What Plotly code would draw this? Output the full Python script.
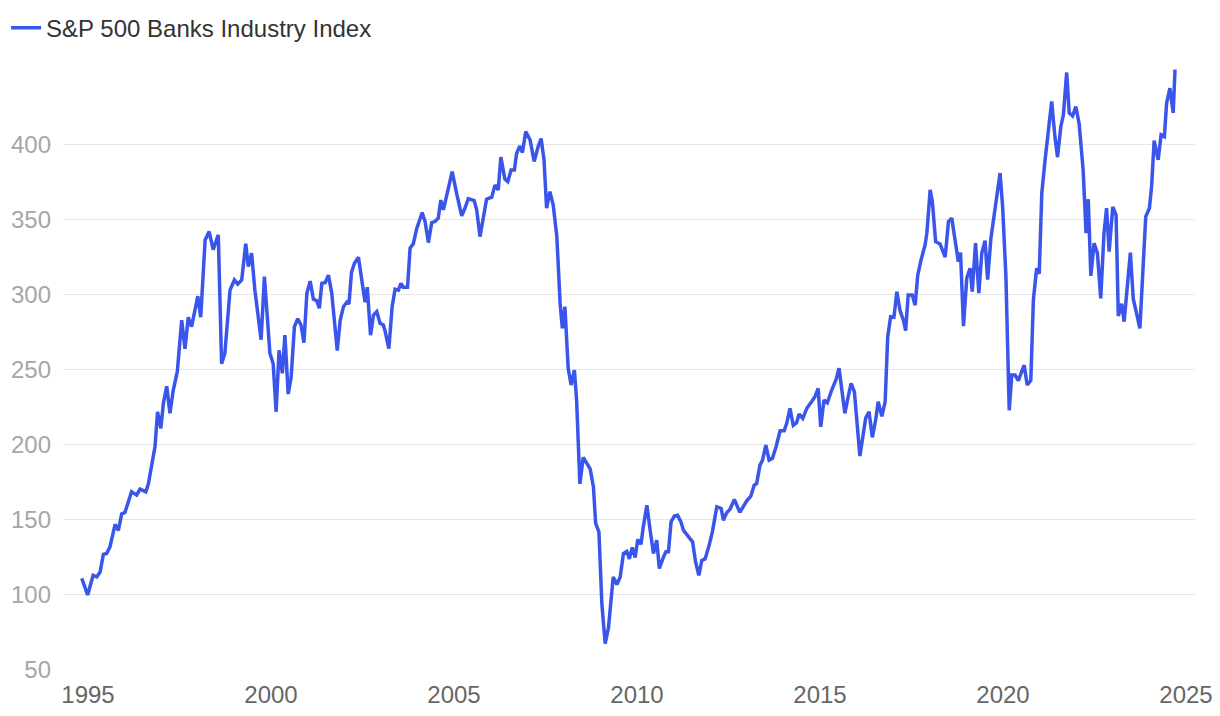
import plotly.graph_objects as go

# Decimal-year positions of each reading and index values
years = [
    1994.83, 1994.99, 1995.14, 1995.24, 1995.33, 1995.42, 1995.51, 1995.60, 1995.74, 1995.83,
    1995.92, 1996.01, 1996.19, 1996.33, 1996.42, 1996.58, 1996.65, 1996.74, 1996.83, 1996.90,
    1996.99, 1997.06, 1997.15, 1997.24, 1997.33, 1997.44, 1997.56, 1997.65, 1997.74, 1997.83,
    1998.00, 1998.08, 1998.20, 1998.31, 1998.42, 1998.56, 1998.65, 1998.74, 1998.88, 1999.00,
    1999.09, 1999.20, 1999.31, 1999.38, 1999.47, 1999.56, 1999.73, 1999.82, 1999.97, 2000.06,
    2000.14, 2000.22, 2000.31, 2000.38, 2000.47, 2000.55, 2000.64, 2000.73, 2000.82, 2000.90,
    2000.98, 2001.07, 2001.16, 2001.25, 2001.32, 2001.39, 2001.48, 2001.57, 2001.66, 2001.81,
    2001.89, 2001.98, 2002.07, 2002.13, 2002.20, 2002.28, 2002.39, 2002.48, 2002.57, 2002.63,
    2002.72, 2002.80, 2002.89, 2002.98, 2003.07, 2003.11, 2003.22, 2003.31, 2003.39, 2003.48,
    2003.55, 2003.61, 2003.73, 2003.80, 2003.89, 2003.98, 2004.13, 2004.21, 2004.30, 2004.39,
    2004.48, 2004.57, 2004.64, 2004.71, 2004.84, 2004.95, 2005.07, 2005.21, 2005.30, 2005.39,
    2005.55, 2005.62, 2005.71, 2005.80, 2005.89, 2006.03, 2006.12, 2006.21, 2006.28, 2006.39,
    2006.47, 2006.56, 2006.65, 2006.71, 2006.80, 2006.87, 2006.96, 2007.08, 2007.19, 2007.30,
    2007.38, 2007.46, 2007.53, 2007.62, 2007.71, 2007.81, 2007.90, 2007.96, 2008.03, 2008.12,
    2008.20, 2008.29, 2008.35, 2008.44, 2008.53, 2008.63, 2008.72, 2008.81, 2008.87, 2008.96,
    2009.04, 2009.13, 2009.22, 2009.35, 2009.45, 2009.54, 2009.63, 2009.72, 2009.79, 2009.87,
    2009.95, 2010.02, 2010.11, 2010.17, 2010.27, 2010.36, 2010.45, 2010.54, 2010.61, 2010.72,
    2010.79, 2010.86, 2010.93, 2011.02, 2011.11, 2011.20, 2011.27, 2011.40, 2011.52, 2011.60,
    2011.69, 2011.77, 2011.86, 2011.97, 2012.06, 2012.18, 2012.30, 2012.36, 2012.45, 2012.54,
    2012.66, 2012.81, 2013.00, 2013.11, 2013.20, 2013.27, 2013.36, 2013.43, 2013.52, 2013.61,
    2013.70, 2013.80, 2013.91, 2014.02, 2014.09, 2014.18, 2014.27, 2014.36, 2014.43, 2014.53,
    2014.64, 2014.77, 2014.86, 2014.95, 2015.02, 2015.11, 2015.20, 2015.32, 2015.44, 2015.52,
    2015.59, 2015.68, 2015.77, 2015.85, 2015.94, 2016.00, 2016.09, 2016.25, 2016.34, 2016.43,
    2016.52, 2016.59, 2016.69, 2016.78, 2016.85, 2016.93, 2017.02, 2017.10, 2017.19, 2017.28,
    2017.34, 2017.41, 2017.52, 2017.60, 2017.67, 2017.76, 2017.87, 2017.92, 2018.01, 2018.07,
    2018.16, 2018.28, 2018.42, 2018.51, 2018.60, 2018.69, 2018.78, 2018.84, 2018.92, 2019.01,
    2019.10, 2019.16, 2019.25, 2019.34, 2019.42, 2019.51, 2019.58, 2019.67, 2019.78, 2019.92,
    2019.99, 2020.08, 2020.17, 2020.24, 2020.33, 2020.42, 2020.51, 2020.58, 2020.66, 2020.76,
    2020.83, 2020.92, 2020.99, 2021.06, 2021.15, 2021.24, 2021.33, 2021.42, 2021.49, 2021.58,
    2021.65, 2021.74, 2021.81, 2021.90, 2021.99, 2022.08, 2022.19, 2022.27, 2022.33, 2022.40,
    2022.49, 2022.58, 2022.67, 2022.76, 2022.83, 2022.90, 2023.00, 2023.09, 2023.15, 2023.24,
    2023.31, 2023.48, 2023.56, 2023.65, 2023.74, 2023.90, 2024.00, 2024.06, 2024.13, 2024.24,
    2024.32, 2024.41, 2024.47, 2024.56, 2024.65, 2024.70,
]

index_values = [
    111, 100, 113, 112, 115.3, 127, 127.6, 132, 147, 143,
    154, 155, 168.7, 166.5, 170.5, 168.7, 174, 185, 198.7, 222,
    211, 227.6, 239, 221, 236.5, 248.7, 283, 264, 285, 278.7,
    299, 285, 336.5, 342, 330, 339.8, 254, 261, 303, 309.8,
    307, 309.8, 334, 318.7, 327.6, 303, 270, 312, 261, 254,
    222, 263, 247.6, 273, 233.8, 245, 278.7, 284, 279.8, 268,
    301, 309, 297, 296, 291, 307.6, 308, 313, 301, 262.7,
    283, 292, 295, 293.8, 315, 321, 325, 309.8, 295, 305,
    273, 286.5, 288.7, 281, 279.8, 276.5, 264, 292, 303.6, 303,
    307.6, 305, 305, 331, 334, 344, 354.7, 348.7, 334.7, 348,
    348.7, 351, 363, 356.5, 369.8, 382, 367.6, 352.5, 357.6, 364,
    362.7, 356.5, 338.7, 351, 363.6, 365, 373, 369.8, 391.6, 377,
    375.3, 383, 383, 394, 399, 394.7, 408.7, 403, 388.7, 398.7,
    404, 389.8, 357.6, 368.7, 359.8, 338.7, 294, 277.6, 292, 251,
    239.8, 249.8, 229.8, 174, 191.6, 187.6, 184, 172, 147.6, 142,
    94, 67.6, 78, 112, 107, 112, 127.6, 129, 124, 131.6,
    125, 137, 133.8, 145, 159.8, 143, 127.6, 136.5, 117.6, 125,
    128.7, 128.7, 148.7, 152.5, 153, 148.7, 143, 139, 135.3, 122,
    113, 123, 124, 133, 142, 158.7, 157.6, 149.8, 154.7, 157,
    163.6, 155, 162.7, 165.8, 173, 174.3, 186.5, 189.8, 199.8, 189.8,
    191, 198.7, 209.3, 209.3, 214.3, 224.3, 213, 214.7, 220.5, 217.6,
    224.3, 228.7, 232, 237.6, 212, 229.8, 228, 236.5, 243.6, 251,
    238.7, 221, 232, 241, 235.3, 218.7, 192.5, 218, 222, 205,
    216.5, 228.7, 219, 228.7, 272, 285.3, 285, 302, 289, 283,
    276, 299.8, 299.8, 293, 313, 323, 333, 341, 369.8, 362,
    335.3, 333.8, 325, 348.7, 351, 336.5, 322, 328, 279, 311,
    317.6, 302, 334.3, 301, 327.6, 336, 310, 337.6, 358.7, 381,
    358.7, 312, 223, 246.5, 246.5, 242.7, 248.7, 253, 239.8, 243,
    296.5, 317.6, 314, 367.6, 389.8, 409.8, 428.7, 405, 391.6, 412,
    419.8, 448, 421, 419, 425.3, 414, 383, 341, 363.6, 312.5,
    334.3, 327.6, 297.6, 341, 357.6, 328.7, 358.5, 353, 285.8, 294,
    282, 328, 297, 287.6, 277.6, 352, 357.6, 372, 402.7, 389.8,
    406.5, 405.3, 427.6, 437.6, 421, 450,
]

x_ticks = [1995, 2000, 2005, 2010, 2015, 2020, 2025]
y_ticks = [50, 100, 150, 200, 250, 300, 350, 400]
series_name = "S&P 500 Banks Industry Index"

fig = go.Figure()
fig.add_trace(go.Scatter(
    x=years, y=index_values, mode="lines", name=series_name,
    line=dict(color="#3a55ec", width=3.5, shape="linear"),
    showlegend=True,
))

font_family = "Liberation Sans, Arial, Helvetica, sans-serif"

fig.update_layout(
    width=1220, height=716,
    margin=dict(l=63, r=25, t=68, b=46, autoexpand=False),
    paper_bgcolor="white", plot_bgcolor="white",
    font=dict(family=font_family, size=24, color="#666666"),
    showlegend=True,
    legend=dict(
        xref="container", yref="container",
        x=0.005, y=0.992, xanchor="left", yanchor="top",
        orientation="h",
        font=dict(size=24, color="#333333", family=font_family),
        bgcolor="rgba(0,0,0,0)", itemwidth=30,
    ),
    xaxis=dict(
        range=[1994.317, 2025.246],
        tickmode="array", tickvals=x_ticks, ticktext=[str(t) for t in x_ticks],
        showgrid=False, zeroline=False, showline=False,
        ticks="", tickfont=dict(size=24, color="#666666"),
        ticklabelstandoff=8,
        automargin=False,
    ),
    yaxis=dict(
        range=[50, 451],
        tickmode="array", tickvals=y_ticks, ticktext=[str(t) for t in y_ticks],
        showgrid=True, gridcolor="#e6e6e6", gridwidth=1,
        zeroline=False, showline=False, ticks="",
        tickfont=dict(size=24, color="#a6a6a6"),
        ticklabelstandoff=11,
        automargin=False,
    ),
)

fig.write_html("out.html")
